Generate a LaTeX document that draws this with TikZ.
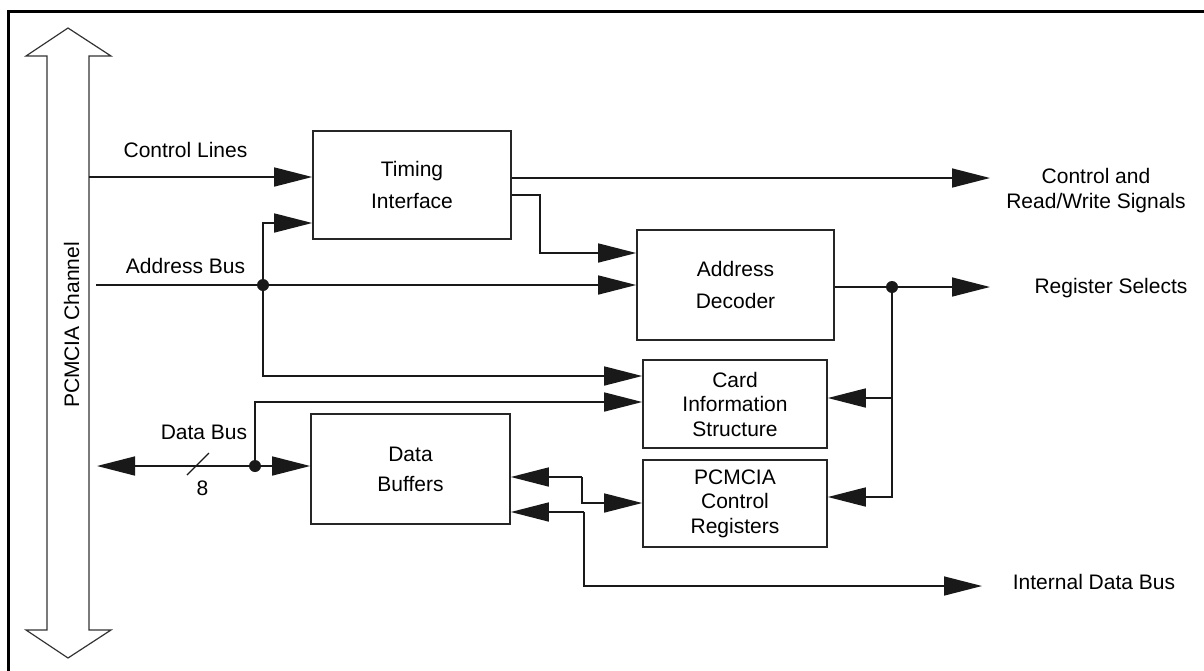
\documentclass[tikz,border=0pt]{standalone}
\usepackage{fontspec}
\setmainfont{Liberation Sans}
\usetikzlibrary{arrows.meta,calc}
\tikzset{
  blk/.style={draw=black!85, line width=1.6pt, rectangle, inner sep=0pt, align=center},
  lbl/.style={inner sep=0pt, font=\fontsize{21}{25}\selectfont},
  wire/.style={draw=black!90, line width=1.5pt},
  sarrow/.style={wire, -{Triangle[length=38pt,width=19pt]}},
  jdot/.style={fill=black!90, circle, inner sep=0pt, minimum size=12pt},
}
\begin{document}
\begin{tikzpicture}[x=1pt,y=-1pt]
\useasboundingbox (0,0) rectangle (1204,670);
% frame (top and left visible)
\draw[line width=3.3pt] (1210,11.7) -- (8.7,11.7) -- (8.7,680);
% PCMCIA channel double arrow
\draw[line width=1.2pt, draw=black!80, fill=white]
  (47,630) -- (47,56) -- (26,56) -- (68,28) -- (111,56) -- (89,56) -- (89,630)
  -- (111,630) -- (68,658) -- (26,630) -- cycle;
\node[lbl, rotate=90] (chan) at (71.5,325) {PCMCIA Channel};

% blocks
\node[blk, minimum width=198pt, minimum height=108pt, font=\fontsize{21}{32}\selectfont] (timing) at (412,185) {Timing\\Interface};
\node[blk, minimum width=197pt, minimum height=110pt, font=\fontsize{21}{32}\selectfont] (dec) at (735.5,285) {Address\\Decoder};
\node[blk, minimum width=184pt, minimum height=88pt, font=\fontsize{21}{24.5}\selectfont] (cis) at (735,404) {Card\\Information\\Structure};
\node[blk, minimum width=184pt, minimum height=87pt, font=\fontsize{21}{24.5}\selectfont] (pcr) at (735,503.5) {PCMCIA\\Control\\Registers};
\node[blk, minimum width=199pt, minimum height=110pt, font=\fontsize{21}{30}\selectfont] (buf) at (410.5,469) {Data\\Buffers};

% labels
\node[lbl, anchor=base] (lcl) at (185.5,157) {Control Lines};
\node[lbl, anchor=base] (lab) at (185.5,273) {Address Bus};
\node[lbl, anchor=base] (ldb) at (204,439) {Data Bus};
\node[lbl, anchor=base] (l8) at (202.5,495) {8};
\node[lbl, align=center] (lcrw) at (1096,191) {Control and\\Read/Write Signals};
\node[lbl, anchor=base] (lrs) at (1111,293) {Register Selects};
\node[lbl, anchor=base] (lidb) at (1094,589) {Internal Data Bus};

% coordinates
\coordinate (cl) at (89,177);
\coordinate (crw) at (990,178);
\coordinate (td1) at (540,195);
\coordinate (td2) at (540,253);
\coordinate (ab) at (96,285);
\coordinate (ti2) at (263,223);
\coordinate (ci1) at (263,376);
\coordinate (dbL) at (97,466);
\coordinate (ci2) at (255,402);
\coordinate (rs) at (990,287);
\coordinate (rsc) at (892,398);
\coordinate (rsb) at (892,497);
\coordinate (bp1) at (582,477);
\coordinate (bp2) at (582,503);
\coordinate (ib1) at (584,512);
\coordinate (ib2) at (584,586);
\coordinate (ib3) at (982,586);

% junction dots
\node[jdot] (abj) at (263,285) {};
\node[jdot] (dbj) at (255,466) {};
\node[jdot] (rsj) at (892,287) {};

% connectors
\draw[sarrow] (cl) -- (cl -| timing.west);
\draw[sarrow] (crw -| timing.east) -- (crw);
\draw[sarrow] (td1 -| timing.east) -- (td1) -- (td2) -- (td2 -| dec.west);
\draw[sarrow] (ab) -- (ab -| dec.west);
\draw[sarrow] (abj.center) -- (ti2) -- (ti2 -| timing.west);
\draw[sarrow] (abj.center) -- (ci1) -- (ci1 -| cis.west);
\draw[sarrow] (dbj.center) -- (dbL);
\draw[sarrow] (dbj.center) -- (dbj.center -| buf.west);
\draw[sarrow] (dbj.center) -- (ci2) -- (ci2 -| cis.west);
\draw[wire] (rsj.center -| dec.east) -- (rsj.center);
\draw[sarrow] (rsj.center) -- (rs);
\draw[sarrow] (rsj.center) -- (rsb) -- (rsb -| pcr.east);
\draw[sarrow] (rsc) -- (rsc -| cis.east);
\draw[sarrow] (bp1) -- (bp1 -| buf.east);
\draw[sarrow] (bp1) -- (bp2) -- (bp2 -| pcr.west);
\draw[sarrow] (ib1) -- (ib1 -| buf.east);
\draw[sarrow] (ib1) -- (ib2) -- (ib3);
% bus width slash
\draw[wire, line width=1.2pt] (187,475) -- (209,453);
\end{tikzpicture}
\end{document}
